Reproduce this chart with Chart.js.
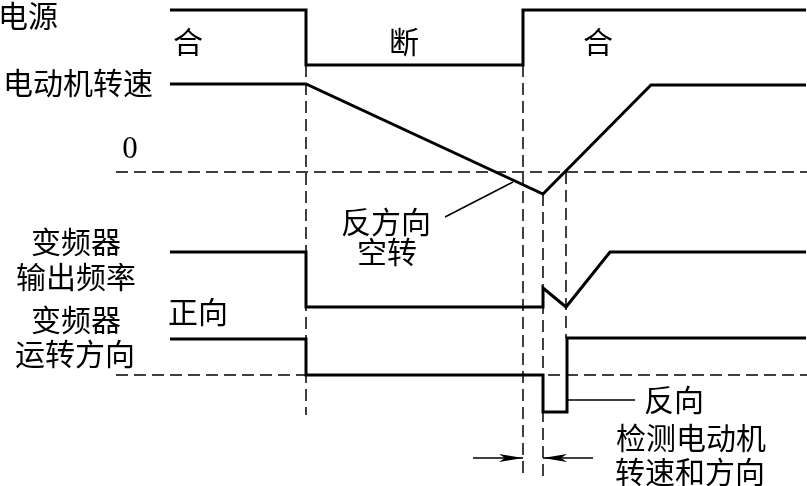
<!DOCTYPE html>
<html>
<head>
<meta charset="utf-8">
<script src="https://cdn.jsdelivr.net/npm/chart.js@4/dist/chart.umd.min.js"></script>
<style>
  html, body { margin: 0; padding: 0; background: #fff; }
  #wrap { width: 807px; height: 486px; }
</style>
</head>
<body>
<div id="wrap"><canvas id="timing" width="807" height="486"></canvas></div>
<script>
// Diagram units: x = time axis (0..807), y = level axis (0..486, top down)
const X_MAX = 807;
const Y_MAX = 486;

// Signal traces
const powerT = [170, 306, 306, 523, 523, 806];
const powerV = [10, 10, 65, 65, 10, 10];

const speedT = [170, 306, 543, 651, 806];
const speedV = [84, 84, 194, 85, 85];

const freqT = [170, 306, 306, 543, 543, 566, 610, 806];
const freqV = [252, 252, 307, 307, 288, 307, 252, 252];

const dirT = [170, 306, 306, 543, 543, 567, 567, 806];
const dirV = [339, 339, 375, 375, 412, 412, 338, 338];

// Dashed reference levels: [level, from, to]
const refLevels = [
    [172, 116, 807],   // speed zero
    [375, 116, 807]    // direction reference
];

// Dashed event markers: [time, top, bottom]
const eventMarks = [
    [306, 65, 415],
    [523, 65, 477],
    [543, 194, 477],
    [566, 172, 338]
];

// Leader lines for callouts
const leaders = [
    [[445, 217], [513, 182]],
    [[567, 400], [635, 400]]
];

// Dimension arrows: [from, to, level]
const dimArrows = [
    [473, 523, 458],
    [593, 543, 458]
];

// Text labels
const labelText = ['电源', '合', '断', '合', '电动机转速', '0', '反方向', '空转',
    '变频器', '输出频率', '正向', '变频器', '运转方向', '反向', '检测电动机', '转速和方向'];
const labelX = [28, 188, 404, 598, 78, 130, 386, 387, 76, 76, 198, 76, 75, 674, 691, 690];
const labelY = [16, 42, 42, 42, 83, 150, 222, 252, 242, 277, 312, 320, 354, 400, 438, 472];

const CJK = '"Noto Sans CJK SC", "Noto Sans CJK JP", sans-serif';

function trace(ts, vs, width, dash) {
    return {
        data: ts.map((t, i) => ({ x: t, y: vs[i] })),
        showLine: true,
        borderColor: '#000',
        borderWidth: width,
        borderDash: dash || [],
        borderJoinStyle: 'miter',
        borderCapStyle: 'butt',
        pointRadius: 0,
        pointHoverRadius: 0,
        tension: 0,
        fill: false
    };
}

const datasets = [];

// dashed guides first so the solid traces sit on top
refLevels.forEach(r => datasets.push(trace([r[1], r[2]], [r[0], r[0]], 1.5, [12, 6])));
eventMarks.forEach(m => datasets.push(trace([m[0], m[0]], [m[1], m[2]], 1.5, [12, 6])));

datasets.push(trace(powerT, powerV, 3));
datasets.push(trace(speedT, speedV, 3));
datasets.push(trace(freqT, freqV, 3));
datasets.push(trace(dirT, dirV, 3));

leaders.forEach(l => datasets.push(trace([l[0][0], l[1][0]], [l[0][1], l[1][1]], 1.5)));
dimArrows.forEach(a => datasets.push(trace([a[0], a[1]], [a[2], a[2]], 1.5)));

const annotate = {
    id: 'annotate',
    afterDatasetsDraw(chart) {
        const ctx = chart.ctx;
        const xs = chart.scales.x;
        const ys = chart.scales.y;
        ctx.save();
        ctx.fillStyle = '#000';

        // arrow heads
        dimArrows.forEach(a => {
            const tip = xs.getPixelForValue(a[1]);
            const dir = a[1] > a[0] ? 1 : -1;
            const y = ys.getPixelForValue(a[2]);
            ctx.beginPath();
            ctx.moveTo(tip, y);
            ctx.lineTo(tip - dir * 24, y - 4);
            ctx.lineTo(tip - dir * 18, y);
            ctx.lineTo(tip - dir * 24, y + 4);
            ctx.closePath();
            ctx.fill();
        });

        // labels
        ctx.textAlign = 'center';
        ctx.textBaseline = 'middle';
        labelText.forEach((txt, i) => {
            ctx.font = txt === '0' ? '31px "Liberation Serif", serif' : '30px ' + CJK;
            ctx.fillText(txt, xs.getPixelForValue(labelX[i]), ys.getPixelForValue(labelY[i]));
        });
        ctx.restore();
    }
};

new Chart(document.getElementById('timing'), {
    type: 'scatter',
    data: { datasets },
    options: {
        responsive: false,
        animation: false,
        layout: { padding: 0 },
        plugins: {
            legend: { display: false },
            tooltip: { enabled: false }
        },
        events: [],
        scales: {
            x: { type: 'linear', min: 0, max: X_MAX, display: false },
            y: { type: 'linear', min: 0, max: Y_MAX, reverse: true, display: false }
        }
    },
    plugins: [annotate]
});
</script>
</body>
</html>
